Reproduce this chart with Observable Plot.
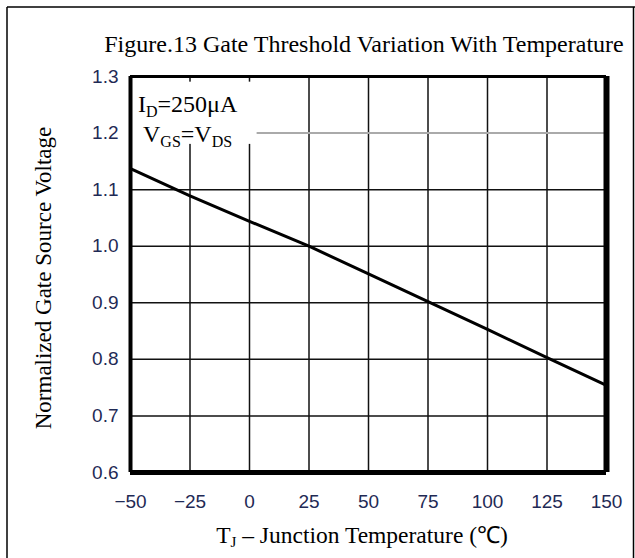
<!DOCTYPE html>
<html>
<head>
<meta charset="utf-8">
<script src="https://cdn.jsdelivr.net/npm/d3@7"></script>
<script src="https://cdn.jsdelivr.net/npm/@observablehq/plot@0.6"></script>
<style>
  html, body { margin: 0; padding: 0; background: #fff; }
  svg { display: block; }
</style>
</head>
<body>
<div id="chart"></div>
<script>
// ---- data ----
const temps = [-50, -25, 0, 25, 50, 75, 100, 125, 150];
const vgs   = [1.137, 1.089, 1.044, 1.0, 0.951, 0.902, 0.853, 0.803, 0.754];
const xTicks = [-50, -25, 0, 25, 50, 75, 100, 125, 150];
const yTicks = [0.6, 0.7, 0.8, 0.9, 1.0, 1.1, 1.2, 1.3];
const highlightY = 1.2;          // grey reference line
const boxX = [-50, 3.2];         // white annotation box extent (data units)
const boxY = [1.18, 1.29];

const titleText = "Figure.13 Gate Threshold Variation With Temperature";
const yLabel = "Normalized Gate Source Voltage";

const serif = "'Liberation Serif','Times New Roman',serif";
const sans = "'Liberation Sans',Arial,sans-serif";
const tickColor = "#1f2a55";

const data = temps.map((t, i) => ({t, v: vgs[i]}));
const box = [{x1: boxX[0], x2: boxX[1], y1: boxY[0], y2: boxY[1]}];

const svg = Plot.plot({
  width: 635,
  height: 558,
  marginLeft: 130,
  marginRight: 29,
  marginTop: 76,
  marginBottom: 86,
  style: {fontFamily: sans, background: "white"},
  x: {domain: [-50, 150], ticks: xTicks},
  y: {domain: [0.6, 1.3], ticks: yTicks},
  marks: [
    Plot.ruleX(xTicks.filter(d => d > -50 && d < 150), {stroke: "#111", strokeWidth: 1.5}),
    Plot.ruleY(yTicks.filter(d => d > 0.6 && d < 1.3 && d !== highlightY), {stroke: "#111", strokeWidth: 1.5}),
    Plot.rect(box, {x1: "x1", x2: "x2", y1: "y1", y2: "y2", fill: "white"}),
    Plot.ruleY([highlightY], {x1: boxX[1], x2: 150, stroke: "#aaa", strokeWidth: 2}),
    Plot.line(data, {x: "t", y: "v", stroke: "#000", strokeWidth: 3}),
    // frame
    Plot.ruleY([1.3], {stroke: "#000", strokeWidth: 3}),
    Plot.ruleY([0.6], {stroke: "#000", strokeWidth: 5}),
    Plot.ruleX([-50], {stroke: "#000", strokeWidth: 4}),
    Plot.ruleX([150], {stroke: "#000", strokeWidth: 6}),
    Plot.axisX(xTicks, {tickSize: 0, tickPadding: 22, fontSize: 19, fill: tickColor, fontFamily: sans, label: null}),
    Plot.axisY(yTicks, {tickSize: 0, tickPadding: 12, fontSize: 19, fill: tickColor, fontFamily: sans, label: null,
      tickFormat: d => d.toFixed(1)})
  ]
});

document.getElementById("chart").appendChild(svg);

const xs = svg.scale("x"), ys = svg.scale("y");
const s = d3.select(svg);
const pLeft = xs.apply(-50), pRight = xs.apply(150);
const pTop = ys.apply(1.3), pBottom = ys.apply(0.6);

// outer border (left, top, right)
s.append("line").attr("x1", 7).attr("x2", 7).attr("y1", 7).attr("y2", 558)
  .attr("stroke", "#000").attr("stroke-width", 1.5);
s.append("line").attr("x1", 7).attr("x2", 635).attr("y1", 7).attr("y2", 7)
  .attr("stroke", "#000").attr("stroke-width", 1.5);
s.append("line").attr("x1", 633.5).attr("x2", 633.5).attr("y1", 7).attr("y2", 558)
  .attr("stroke", "#000").attr("stroke-width", 1.5);

// title
s.append("text").attr("x", 364).attr("y", pTop - 24)
  .attr("text-anchor", "middle").attr("font-family", serif).attr("font-size", 24).attr("fill", "#000")
  .text(titleText);

// y label
s.append("text").attr("transform", `translate(51,${(pTop + pBottom) / 2 + 4}) rotate(-90)`)
  .attr("text-anchor", "middle").attr("font-family", serif).attr("font-size", 23).attr("fill", "#000")
  .text(yLabel);

// x label
const xl = s.append("text").attr("x", (pLeft + pRight) / 2 - 6).attr("y", pBottom + 71)
  .attr("text-anchor", "middle").attr("font-family", serif).attr("font-size", 23.5).attr("fill", "#000");
xl.append("tspan").text("T");
xl.append("tspan").attr("font-size", 15).attr("dy", 4).text("J");
xl.append("tspan").attr("dy", -4).text(" – Junction Temperature (℃)");

// annotation
const a1 = s.append("text").attr("x", pLeft + 8).attr("y", pTop + 36)
  .attr("text-anchor", "start").attr("font-family", serif).attr("font-size", 24).attr("fill", "#000");
a1.append("tspan").text("I");
a1.append("tspan").attr("font-size", 16).attr("dy", 5).text("D");
a1.append("tspan").attr("dy", -5).text("=250μA");

const a2 = s.append("text").attr("x", pLeft + 13).attr("y", pTop + 66)
  .attr("text-anchor", "start").attr("font-family", serif).attr("font-size", 24).attr("fill", "#000");
a2.append("tspan").text("V");
a2.append("tspan").attr("font-size", 16).attr("dy", 5).text("GS");
a2.append("tspan").attr("dy", -5).text("=V");
a2.append("tspan").attr("font-size", 16).attr("dy", 5).text("DS");
</script>
</body>
</html>
